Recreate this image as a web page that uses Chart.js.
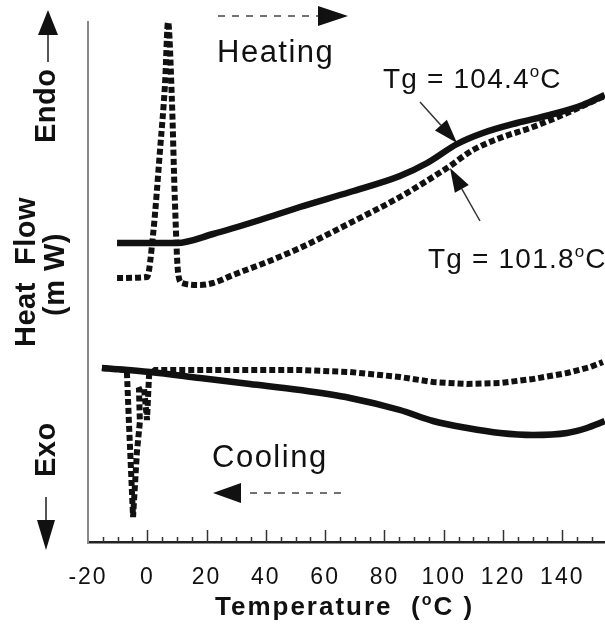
<!DOCTYPE html>
<html>
<head>
<meta charset="utf-8">
<script src="https://cdn.jsdelivr.net/npm/chart.js@4.4.1/dist/chart.umd.min.js"></script>
<style>
  html, body { margin: 0; padding: 0; background: #fff; }
  #wrap { width: 605px; height: 625px; position: relative; }
</style>
</head>
<body>
<div id="wrap"><canvas id="dsc"></canvas></div>
<script>
/* ===== DATA (heat flow in arbitrary units) ===== */
const heatSolidT = [-10.2, 0.9, 10.0, 22.2, 38.0, 51.5, 68.4, 85.2, 94.4, 104.5, 113.2, 124.7, 135.8, 146.9, 154.3];
const heatSolidY = [29.9, 29.9, 29.9, 30.8, 32.2, 33.5, 35.0, 36.6, 37.9, 39.8, 40.9, 41.9, 42.7, 43.7, 44.7];

const heatDotT = [-10.2, -0.1, 2.0, 4.3, 6.0, 7.0, 8.3, 9.3, 10.4, 11.7, 17.8, 22.2, 28.9, 40.4, 51.5, 68.4, 85.2, 101.1, 109.9, 119.0, 130.1, 141.6, 152.7, 154.3];
const heatDotY = [26.4, 26.5, 30.9, 39.2, 45.9, 52.0, 44.2, 34.2, 26.9, 25.9, 25.7, 25.9, 26.7, 28.0, 29.4, 31.9, 34.5, 37.4, 39.2, 40.4, 41.5, 42.9, 44.4, 44.6];

const coolSolidT = [-15.3, 0.9, 17.8, 34.6, 51.5, 68.4, 85.2, 96.4, 107.9, 119.0, 130.1, 141.6, 148.3, 152.7, 154.3];
const coolSolidY = [17.4, 17.0, 16.4, 15.8, 15.2, 14.4, 13.2, 12.1, 11.4, 10.9, 10.7, 10.9, 11.4, 11.9, 12.1];

const coolDotT = [-15.3, -6.9, -6.2, -4.8, -3.5, -2.5, -2.8, -1.1, -0.1, 0.6, 2.6, 17.8, 51.5, 68.4, 85.2, 96.4, 107.9, 119.0, 130.1, 141.6, 149.4, 153.7];
const coolDotY = [17.4, 17.2, 12.0, 2.5, 9.0, 12.0, 15.2, 15.4, 12.2, 16.7, 17.2, 17.2, 17.2, 17.0, 16.5, 16.0, 15.8, 15.9, 16.3, 16.9, 17.5, 18.0];

const xTickValues = [-20, 0, 20, 40, 60, 80, 100, 120, 140];
const tgHeat = "104.4";
const tgCool = "101.8";

function pts(t, v) {
  return t.map((x, i) => ({ x: x, y: v[i] }));
}

const INK = "#111";
const SANS = "'Liberation Sans', Arial, Helvetica, sans-serif";

/* ===== helpers for the drawn annotations ===== */
function tri(ctx, a, b, c) {
  ctx.beginPath();
  ctx.moveTo(a[0], a[1]);
  ctx.lineTo(b[0], b[1]);
  ctx.lineTo(c[0], c[1]);
  ctx.closePath();
  ctx.fill();
}

function arrow(ctx, x0, y0, x1, y1, head, half) {
  const dx = x1 - x0, dy = y1 - y0;
  const len = Math.hypot(dx, dy);
  const ux = dx / len, uy = dy / len;
  const bx = x1 - ux * head, by = y1 - uy * head;
  ctx.beginPath();
  ctx.moveTo(x0, y0);
  ctx.lineTo(bx, by);
  ctx.stroke();
  tri(ctx, [x1, y1], [bx - uy * half, by + ux * half], [bx + uy * half, by - ux * half]);
}

// text with a small raised "o" before C (degree)
function degText(ctx, before, after, x, y, size, weight, spacing) {
  ctx.letterSpacing = spacing + "px";
  ctx.font = weight + " " + size + "px " + SANS;
  ctx.fillText(before, x, y);
  x += ctx.measureText(before).width;
  ctx.font = weight + " " + Math.round(size * 0.6) + "px " + SANS;
  ctx.fillText("o", x, y - size * 0.38);
  x += ctx.measureText("o").width;
  ctx.font = weight + " " + size + "px " + SANS;
  ctx.fillText(after, x, y);
}

function rotText(ctx, text, x, y) {
  ctx.save();
  ctx.translate(x, y);
  ctx.rotate(-Math.PI / 2);
  ctx.fillText(text, 0, 0);
  ctx.restore();
}

/* ===== PLUGIN: inner ticks, labels, arrows ===== */
const dscDecor = {
  id: "dscDecor",
  beforeDraw(chart) {
    chart.ctx.letterSpacing = "2px";
  },
  beforeDatasetsDraw(chart) {
    chart.ctx.letterSpacing = "0px";
  },
  afterDraw(chart) {
    const ctx = chart.ctx;
    const xs = chart.scales.x;
    const bottom = chart.chartArea.bottom;

    ctx.save();
    ctx.strokeStyle = "#333";
    ctx.fillStyle = INK;

    // x axis ticks pointing up, every 5 degrees
    ctx.lineWidth = 1.5;
    for (let t = -15; t <= 150; t += 5) {
      const px = Math.round(xs.getPixelForValue(t)) + 0.5;
      const len = t % 20 === 0 ? 12 : 5;
      ctx.beginPath();
      ctx.moveTo(px, bottom);
      ctx.lineTo(px, bottom - len);
      ctx.stroke();
    }

    // x axis title
    ctx.textAlign = "left";
    ctx.textBaseline = "alphabetic";
    degText(ctx, "Temperature  (", "C )", 215, 615, 26, "bold", 2);

    // y axis labels (rotated)
    ctx.letterSpacing = "0.5px";
    ctx.font = "bold 29px " + SANS;
    rotText(ctx, "Endo", 55, 143);
    rotText(ctx, "Heat  Flow", 35, 347);
    rotText(ctx, "(m W)", 64, 316);
    rotText(ctx, "Exo", 55, 477);

    ctx.strokeStyle = "#555";
    ctx.lineWidth = 2;
    ctx.beginPath();
    ctx.moveTo(48, 62);
    ctx.lineTo(48, 34);
    ctx.moveTo(46, 497);
    ctx.lineTo(46, 522);
    ctx.stroke();
    tri(ctx, [48, 10], [38, 35], [58, 35]);
    tri(ctx, [46, 550], [37, 520], [55, 520]);

    // Heating / Cooling
    ctx.letterSpacing = "1.5px";
    ctx.font = "31px " + SANS;
    ctx.fillText("Heating", 217, 62);
    ctx.fillText("Cooling", 212, 467);

    ctx.setLineDash([7, 7]);
    ctx.lineWidth = 1.5;
    ctx.strokeStyle = "#444";
    ctx.beginPath();
    ctx.moveTo(218, 16);
    ctx.lineTo(318, 16);
    ctx.moveTo(250, 493);
    ctx.lineTo(342, 493);
    ctx.stroke();
    ctx.setLineDash([]);
    tri(ctx, [348, 16], [318, 6], [318, 26]);
    tri(ctx, [213, 493], [241, 483], [241, 503]);

    // Tg labels and arrows
    degText(ctx, "Tg = " + tgHeat, "C", 383, 88, 28, "normal", 1.2);
    degText(ctx, "Tg = " + tgCool, "C", 428, 268, 28, "normal", 1.2);
    ctx.letterSpacing = "0px";
    ctx.strokeStyle = "#333";
    ctx.lineWidth = 1.5;
    arrow(ctx, 420, 102, 457, 143, 24, 8);
    arrow(ctx, 480, 221, 450, 168, 24, 8);

    ctx.restore();
  }
};

/* ===== CHART ===== */
new Chart(document.getElementById("dsc"), {
  type: "line",
  data: {
    datasets: [
      {
        label: "Heating (solid)",
        data: pts(heatSolidT, heatSolidY),
        borderColor: INK,
        borderWidth: 6.5,
        cubicInterpolationMode: "monotone",
      },
      {
        label: "Heating (dotted)",
        data: pts(heatDotT, heatDotY),
        borderColor: INK,
        borderWidth: 6,
        borderDash: [6, 3],
        cubicInterpolationMode: "monotone",
      },
      {
        label: "Cooling (solid)",
        data: pts(coolSolidT, coolSolidY),
        borderColor: INK,
        borderWidth: 6.5,
        cubicInterpolationMode: "monotone",
      },
      {
        label: "Cooling (dotted)",
        data: pts(coolDotT, coolDotY),
        borderColor: INK,
        borderWidth: 6,
        borderDash: [6, 3],
      },
    ],
  },
  options: {
    responsive: true,
    maintainAspectRatio: false,
    animation: false,
    devicePixelRatio: 1,
    layout: { padding: { left: 88, top: 22, right: 0, bottom: 0 } },
    elements: {
      point: { radius: 0 },
      line: { tension: 0, borderCapStyle: "butt", borderJoinStyle: "miter" },
    },
    datasets: { line: { clip: false } },
    plugins: {
      legend: { display: false },
      tooltip: { enabled: false },
    },
    scales: {
      x: {
        type: "linear",
        min: -20,
        max: 154.4,
        afterBuildTicks: (s) => {
          s.ticks = xTickValues.map((v) => ({ value: v }));
        },
        afterFit: (s) => {
          s.height = 83;
        },
        ticks: {
          padding: 22,
          color: INK,
          font: { family: SANS, size: 23 },
          maxRotation: 0,
          autoSkip: false,
        },
        grid: { drawOnChartArea: false, drawTicks: false },
        border: { display: true, color: "#222", width: 2.5 },
      },
      y: {
        type: "linear",
        min: 0,
        max: 52,
        afterFit: (s) => {
          s.width = 0;
        },
        ticks: { display: false },
        grid: { drawOnChartArea: false, drawTicks: false },
        border: { display: true, color: "#888", width: 2 },
      },
    },
  },
  plugins: [dscDecor],
});
</script>
</body>
</html>
